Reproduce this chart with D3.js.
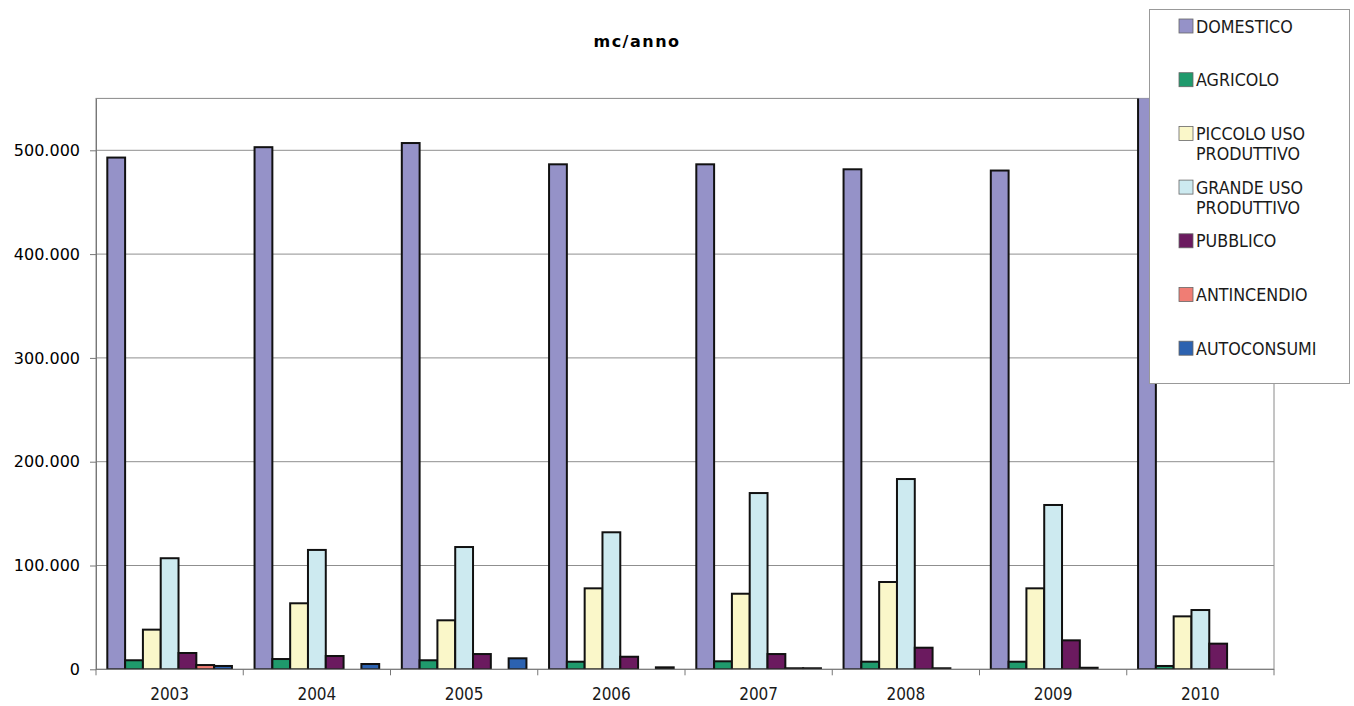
<!DOCTYPE html>
<html>
<head>
<meta charset="utf-8">
<script src="https://cdn.jsdelivr.net/npm/d3@7"></script>
<style>
  html, body { margin: 0; padding: 0; background: #fff; }
  svg { display: block; }
</style>
</head>
<body>
<svg id="chart" width="1354" height="706"></svg>
<script>
// Consumi idrici per tipologia d'uso, mc/anno
const years = ["2003", "2004", "2005", "2006", "2007", "2008", "2009", "2010"];
const seriesNames = ["DOMESTICO", "AGRICOLO", "PICCOLO USO PRODUTTIVO", "GRANDE USO PRODUTTIVO", "PUBBLICO", "ANTINCENDIO", "AUTOCONSUMI"];
const seriesColors = ["#9592c8", "#1f9a6c", "#faf7c9", "#cdeaf0", "#6b1a5f", "#f07d74", "#2c62b0"];

const domestico   = [493000, 503000, 507000, 486500, 486500, 481700, 480500, 560000];
const agricolo    = [8700, 9900, 8700, 7300, 7700, 7300, 7300, 3200];
const piccoloUso  = [38200, 63600, 47200, 78000, 72800, 84100, 78000, 51000];
const grandeUso   = [107000, 115000, 117800, 132000, 169800, 183300, 158300, 57100];
const pubblico    = [15700, 12800, 14700, 12100, 14700, 20800, 27900, 24700];
const antincendio = [4100, 0, 0, 0, 1000, 1000, 1500, 0];
const autoconsumi = [3200, 5100, 10600, 1900, 1000, 0, 0, 0];

const yTicks = [0, 100000, 200000, 300000, 400000, 500000];

const seriesValues = [domestico, agricolo, piccoloUso, grandeUso, pubblico, antincendio, autoconsumi];

const svg = d3.select("#chart");
const plot = { left: 96, right: 1274, top: 98.4, bottom: 669.3 };

const x0 = d3.scaleBand().domain(years).range([plot.left, plot.right]).padding(0);
const x1 = d3.scaleBand().domain(seriesNames).range([0, x0.bandwidth()])
  .paddingInner(0).paddingOuter(0.635);
const y = d3.scaleLinear().domain([0, 550000]).range([plot.bottom, plot.top]);

const it = d3.formatLocale({ decimal: ",", thousands: ".", grouping: [3], currency: ["", "€"] });
const fmt = it.format(",");

// clip region for the bars
svg.append("defs").append("clipPath").attr("id", "plotClip")
  .append("rect")
  .attr("x", plot.left).attr("y", plot.top)
  .attr("width", plot.right - plot.left).attr("height", plot.bottom - plot.top);

// horizontal gridlines
svg.append("g").selectAll("line")
  .data(yTicks.filter(d => d > 0))
  .join("line")
  .attr("x1", plot.left).attr("x2", plot.right)
  .attr("y1", d => y(d)).attr("y2", d => y(d))
  .attr("stroke", "#8f8f8f").attr("stroke-width", 1);

// plot frame
svg.append("rect")
  .attr("x", plot.left).attr("y", plot.top)
  .attr("width", plot.right - plot.left).attr("height", plot.bottom - plot.top)
  .attr("fill", "none").attr("stroke", "#8a8a8a").attr("stroke-width", 1);

// bars
const rows = [];
years.forEach((yr, i) => {
  seriesNames.forEach((s, j) => {
    rows.push({ year: yr, series: s, value: seriesValues[j][i], color: seriesColors[j] });
  });
});

svg.append("g").attr("clip-path", "url(#plotClip)")
  .selectAll("rect")
  .data(rows.filter(d => d.value > 0))
  .join("rect")
  .attr("x", d => x0(d.year) + x1(d.series))
  .attr("width", x1.bandwidth())
  .attr("y", d => y(d.value))
  .attr("height", d => y(0) - y(d.value))
  .attr("fill", d => d.color)
  .attr("stroke", "#111")
  .attr("stroke-width", 2);

// y axis
const yAxis = svg.append("g")
  .attr("transform", `translate(${plot.left},0)`)
  .call(d3.axisLeft(y).tickValues(yTicks).tickFormat(fmt).tickSize(6).tickSizeOuter(0));
yAxis.select(".domain").attr("stroke", "#777");
yAxis.selectAll(".tick line").attr("stroke", "#777");
yAxis.selectAll(".tick text")
  .attr("x", -16)
  .attr("font-family", "'DejaVu Sans', Verdana, sans-serif")
  .attr("font-size", 16)
  .attr("fill", "#000");

// x axis: ticks on category boundaries, labels centred
const xAxis = svg.append("g").attr("transform", `translate(0,${plot.bottom})`);
xAxis.append("line")
  .attr("x1", plot.left).attr("x2", plot.right)
  .attr("stroke", "#777");
xAxis.selectAll("line.tk")
  .data(years.map(d => x0(d)).concat([plot.right]))
  .join("line").attr("class", "tk")
  .attr("x1", d => d).attr("x2", d => d)
  .attr("y1", 0).attr("y2", 6)
  .attr("stroke", "#777");
xAxis.selectAll("text")
  .data(years)
  .join("text")
  .attr("x", d => x0(d) + x0.bandwidth() / 2)
  .attr("y", 31)
  .attr("text-anchor", "middle")
  .attr("font-family", "'DejaVu Sans Condensed', 'DejaVu Sans', sans-serif")
  .attr("font-size", 17)
  .attr("fill", "#1a1a1a")
  .text(d => d);

// title
svg.append("text")
  .attr("x", 637).attr("y", 47)
  .attr("text-anchor", "middle")
  .attr("font-family", "'DejaVu Sans', Verdana, sans-serif")
  .attr("font-weight", "bold")
  .attr("font-size", 16)
  .attr("letter-spacing", 1.5)
  .attr("fill", "#000")
  .text("mc/anno");

// legend
const legend = svg.append("g");
legend.append("rect")
  .attr("x", 1149.5).attr("y", 9.5)
  .attr("width", 200).attr("height", 374)
  .attr("fill", "#fff")
  .attr("stroke", "#999").attr("stroke-width", 1);

const legendLines = [["DOMESTICO"], ["AGRICOLO"], ["PICCOLO USO", "PRODUTTIVO"], ["GRANDE USO", "PRODUTTIVO"], ["PUBBLICO"], ["ANTINCENDIO"], ["AUTOCONSUMI"]];
const items = legend.selectAll("g.item")
  .data(seriesNames.map((s, i) => ({ name: s, lines: legendLines[i], color: seriesColors[i], i })))
  .join("g").attr("class", "item")
  .attr("transform", d => `translate(1179,${26 + d.i * 53.7})`);
items.append("rect")
  .attr("x", 0).attr("y", -7)
  .attr("width", 14).attr("height", 14)
  .attr("fill", d => d.color)
  .attr("stroke", "#666").attr("stroke-width", 0.8);
items.append("text")
  .attr("x", 17)
  .attr("font-family", "'DejaVu Sans Condensed', 'DejaVu Sans', sans-serif")
  .attr("font-size", 17.7)
  .attr("fill", "#1a1a1a")
  .selectAll("tspan")
  .data(d => d.lines)
  .join("tspan")
  .attr("x", 17)
  .attr("y", (d, k) => 6.5 + k * 20.5)
  .text(d => d);
</script>
</body>
</html>
